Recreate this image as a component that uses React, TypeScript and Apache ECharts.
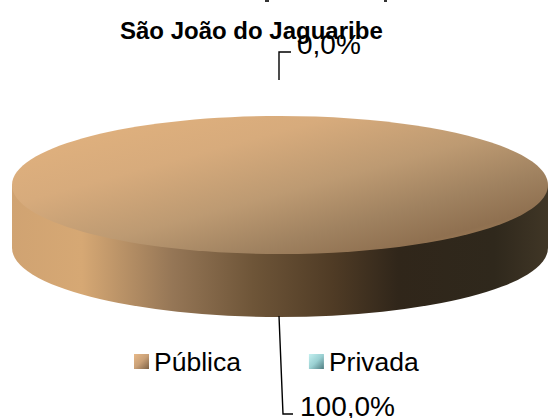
import React, { useEffect, useRef } from "react";
import * as echarts from "echarts";

const categories = ["Pública", "Privada"];
const shares = [100.0, 0.0];
const titleText = "São João do Jaguaribe";

const CX = 280;
const CY = 185;
const RX = 268;
const RY = 69;
const DEPTH = 63;

const topGradients = [
  new echarts.graphic.LinearGradient(0, 0.1, 0.9, 0.95, [
    { offset: 0, color: "#e2b27e" },
    { offset: 0.3, color: "#d7ab7c" },
    { offset: 0.55, color: "#bd9a72" },
    { offset: 0.75, color: "#a08260" },
    { offset: 0.9, color: "#8f7050" },
    { offset: 1, color: "#a58259" },
  ]),
  new echarts.graphic.LinearGradient(0, 0, 1, 1, [
    { offset: 0, color: "#bfeeee" },
    { offset: 1, color: "#4f8080" },
  ]),
];
const sideGradients = [
  new echarts.graphic.LinearGradient(0, 0, 1, 0, [
    { offset: 0, color: "#d0a372" },
    { offset: 0.13, color: "#d6a874" },
    { offset: 0.3, color: "#957656" },
    { offset: 0.45, color: "#6e5538" },
    { offset: 0.6, color: "#4f3b25" },
    { offset: 0.72, color: "#30261a" },
    { offset: 0.9, color: "#2f281c" },
    { offset: 1, color: "#403626" },
  ]),
  new echarts.graphic.LinearGradient(0, 0, 1, 0, [
    { offset: 0, color: "#8fc4c4" },
    { offset: 1, color: "#2f5050" },
  ]),
];
const legendGradients = [
  new echarts.graphic.LinearGradient(0, 0, 1, 1, [
    { offset: 0, color: "#e8b988" },
    { offset: 0.5, color: "#c9a077" },
    { offset: 1, color: "#7d6145" },
  ]),
  new echarts.graphic.LinearGradient(0, 0, 1, 1, [
    { offset: 0, color: "#c4f0f0" },
    { offset: 0.5, color: "#9ad0d2" },
    { offset: 1, color: "#4e7c80" },
  ]),
];

const labelPlacement = [
  { line: [[279, 316], [283, 414], [293, 414]], x: 300, y: 420 },
  { line: [[279, 80], [279, 52], [291, 52]], x: 297, y: 58 },
];

const fmt = (v: number) => v.toFixed(1).replace(".", ",") + "%";

function discChildren(share: number, index: number) {
  const children: any[] = [];
  if (share >= 100) {
    const d = `M${CX - RX} ${CY}L${CX - RX} ${CY + DEPTH}A${RX} ${RY} 0 0 0 ${CX + RX} ${CY + DEPTH}L${CX + RX} ${CY}Z`;
    children.push({
      type: "path",
      shape: { pathData: d, layout: "cover", x: CX - RX, y: CY, width: 2 * RX, height: RY + DEPTH },
      style: { fill: sideGradients[index] },
    });
    children.push({
      type: "ellipse",
      shape: { cx: CX, cy: CY, rx: RX, ry: RY },
      style: { fill: topGradients[index] },
    });
  }
  const place = labelPlacement[index];
  children.push({
    type: "polyline",
    shape: { points: place.line },
    style: { stroke: "#000", lineWidth: 1.4, fill: "none" },
  });
  children.push({
    type: "text",
    x: place.x,
    y: place.y,
    style: {
      text: fmt(share),
      fill: "#000",
      font: "28px 'Liberation Sans', Arial, sans-serif",
      textAlign: "left",
      textVerticalAlign: "bottom",
    },
  });
  return children;
}

export default function App() {
  const ref = useRef<HTMLDivElement>(null);
  useEffect(() => {
    const chart = echarts.init(ref.current!, null, { renderer: "svg" });
    chart.setOption({
      animation: false,
      backgroundColor: "#ffffff",
      title: {
        text: titleText,
        left: 120,
        top: 18,
        padding: 0,
        textStyle: {
          color: "#000",
          fontFamily: "'Liberation Sans', Arial, sans-serif",
          fontWeight: "bold",
          fontSize: 24,
        },
      },
      graphic: [
        { type: "rect", shape: { x: 265, y: 0, width: 4, height: 2 }, style: { fill: "#333" } },
        { type: "rect", shape: { x: 384, y: 0, width: 3, height: 2 }, style: { fill: "#333" } },
      ],
      legend: {
        show: true,
        data: categories,
        left: 134,
        top: 348,
        padding: 0,
        itemWidth: 15,
        itemHeight: 15,
        itemGap: 68,
        icon: "rect",
        textStyle: {
          color: "#000",
          fontFamily: "'Liberation Sans', Arial, sans-serif",
          fontSize: 26.5,
        },
      },
      series: categories.map((name, i) => ({
        type: "custom",
        name,
        coordinateSystem: "none",
        data: [[shares[i]]],
        z: i === 0 ? 2 : 3,
        itemStyle: { color: legendGradients[i] },
        renderItem: (_p: any, api: any) => ({
          type: "group",
          children: discChildren(api.value(0), i),
        }),
      })),
    });
    return () => chart.dispose();
  }, []);
  return <div ref={ref} style={{ position: "fixed", left: 0, top: 0, width: 549, height: 418 }} />;
}
